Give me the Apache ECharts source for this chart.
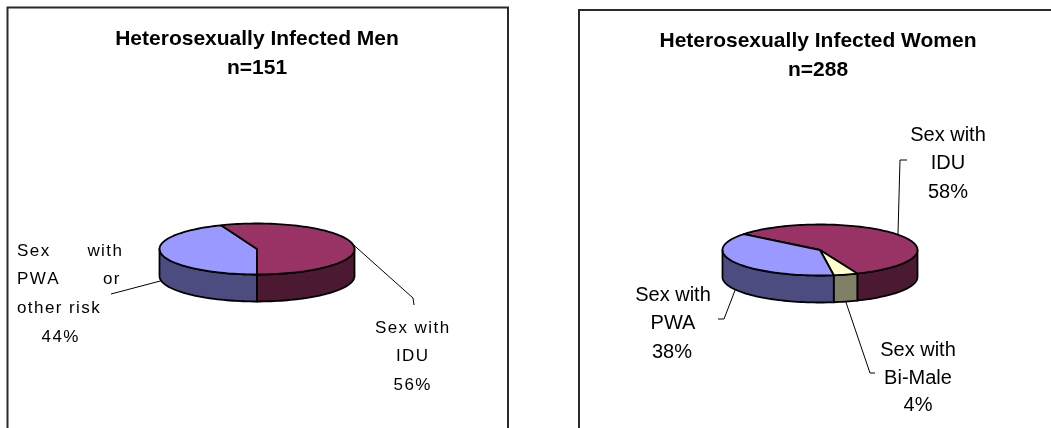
<!DOCTYPE html>
<html>
<head>
<meta charset="utf-8">
<script src="https://cdn.jsdelivr.net/npm/echarts@6/dist/echarts.min.js"></script>
<style>
html, body { margin: 0; padding: 0; background: #fff; }
#main { width: 1051px; height: 428px; }
</style>
</head>
<body>
<div id="main"></div>
<script>
// men panel
var menNames = ['Sex with PWA or other risk', 'Sex with IDU'];
var menLabelText = ['Sex      with\nPWA       or\nother risk', 'Sex with\nIDU'];
var menValues = [44, 56];

// women panel
var womenNames = ['Sex with IDU', 'Sex with Bi-Male', 'Sex with PWA'];
var womenLabelText = ['Sex with\nIDU', 'Sex with\nBi-Male', 'Sex with\nPWA'];
var womenValues = [58, 4, 38];

var titles = ['Heterosexually Infected Men\nn=151', 'Heterosexually Infected Women\nn=288'];

// colours (top face / side wall)
var PWA_TOP = '#9999FF', PWA_SIDE = '#4C4C80';
var IDU_TOP = '#993366', IDU_SIDE = '#4C1933';
var BI_TOP = '#FFFFCC', BI_SIDE = '#808066';

// excel-ish letter spacing for the left chart labels
function spaceOut(s) {
    return s.split('\n').map(function (l) { return l.split('').join('\u200A'); }).join('\n');
}

function pie3d(values, texts, cfg) {
    var total = values.reduce(function (a, b) { return a + b; }, 0);
    var starts = [], acc = cfg.startAngle;
    values.forEach(function (v) { starts.push(acc); acc += v / total * 360; });

    function pt(deg, dy) {
        var r = deg * Math.PI / 180;
        return [cfg.cx + cfg.rx * Math.sin(r), cfg.cy - cfg.ry * Math.cos(r) + (dy || 0)];
    }
    function arc(a1, a2, dy) {
        var pts = [], n = Math.max(2, Math.ceil(Math.abs(a2 - a1) / 2));
        for (var i = 0; i <= n; i++) pts.push(pt(a1 + (a2 - a1) * i / n, dy));
        return pts;
    }
    var edge = { stroke: '#000', lineWidth: 1.8, lineJoin: 'round' };
    var font = cfg.fontSize + 'px "Liberation Sans", Arial, sans-serif';

    return {
        type: 'custom',
        coordinateSystem: 'none',
        silent: true,
        animation: false,
        data: values,
        renderItem: function (params, api) {
            var i = params.dataIndex;
            var a1 = starts[i], a2 = a1 + api.value(0) / total * 360;
            var kids = [];
            // visible side wall = front half of the rim (90..270 deg)
            for (var k = -1; k <= 2; k++) {
                var s = Math.max(a1, 90 + 360 * k), e = Math.min(a2, 270 + 360 * k);
                if (e > s) {
                    kids.push({
                        type: 'polygon',
                        shape: { points: arc(s, e, 0).concat(arc(e, s, cfg.depth)) },
                        style: Object.assign({ fill: cfg.side[i] }, edge)
                    });
                }
            }
            kids.push({
                type: 'polygon',
                shape: { points: [[cfg.cx, cfg.cy]].concat(arc(a1, a2, 0)) },
                style: Object.assign({ fill: cfg.top[i] }, edge)
            });

            // label + leader
            var L = cfg.labels[i];
            var mid = (a1 + a2) / 2;
            var front = Math.cos(mid * Math.PI / 180) < 0;
            var anchor = pt(mid, front ? cfg.depth : 0);
            kids.push({
                type: 'polyline',
                shape: { points: [anchor].concat(L.leader) },
                style: { stroke: '#000', lineWidth: 1, fill: null }
            });
            var name = texts[i], pct = api.value(0) + '%';
            if (cfg.spaced) { name = spaceOut(name); pct = spaceOut(pct); }
            kids.push({
                type: 'text', x: L.x, y: L.y - cfg.lineHeight / 2,
                style: { text: name, font: font, fill: '#000', align: L.align || 'center', verticalAlign: 'top', lineHeight: cfg.lineHeight }
            });
            kids.push({
                type: 'text', x: L.px, y: L.py,
                style: { text: pct, font: font, fill: '#000', align: 'center', verticalAlign: 'middle' }
            });
            return { type: 'group', children: kids };
        }
    };
}

var menSeries = pie3d(menValues, menLabelText, {
    cx: 257, cy: 249, rx: 97.5, ry: 25.5, depth: 27, startAngle: 180,
    top: [PWA_TOP, IDU_TOP], side: [PWA_SIDE, IDU_SIDE],
    fontSize: 17, lineHeight: 28.6, spaced: true,
    labels: [
        { x: 17, y: 251, align: 'left', px: 60, py: 337, leader: [[111, 294]] },
        { x: 412, y: 328, px: 412, py: 385, leader: [[413, 298], [414, 305]] }
    ]
});

var womenSeries = pie3d(womenValues, womenLabelText, {
    cx: 820, cy: 250, rx: 97.5, ry: 25.5, depth: 27, startAngle: 308.7,
    top: [IDU_TOP, BI_TOP, PWA_TOP], side: [IDU_SIDE, BI_SIDE, PWA_SIDE],
    fontSize: 20, lineHeight: 28.5, spaced: false,
    labels: [
        { x: 948, y: 135, px: 948, py: 192, leader: [[900, 160], [907, 160]] },
        { x: 918, y: 350, px: 918, py: 405, leader: [[870, 373], [875, 373]] },
        { x: 673, y: 295, px: 672, py: 352, leader: [[724, 319], [718, 319]] }
    ]
});

var titleStyle = { fontSize: 21, fontWeight: 'bold', fontFamily: '"Liberation Sans", Arial, sans-serif', lineHeight: 29, color: '#000' };

var chart = echarts.init(document.getElementById('main'));
chart.setOption({
    backgroundColor: '#fff',
    animation: false,
    title: [
        { text: titles[0], left: 257, top: 25, padding: 0, textAlign: 'center', textStyle: titleStyle },
        { text: titles[1], left: 818, top: 27, padding: 0, textAlign: 'center', textStyle: titleStyle }
    ],
    graphic: [
        { type: 'rect', shape: { x: 7.5, y: 7.5, width: 500.5, height: 440 }, style: { fill: null, stroke: '#2a2a2a', lineWidth: 2 } },
        { type: 'rect', shape: { x: 579, y: 10, width: 500, height: 440 }, style: { fill: null, stroke: '#2a2a2a', lineWidth: 2 } }
    ],
    series: [menSeries, womenSeries]
});
</script>
</body>
</html>
